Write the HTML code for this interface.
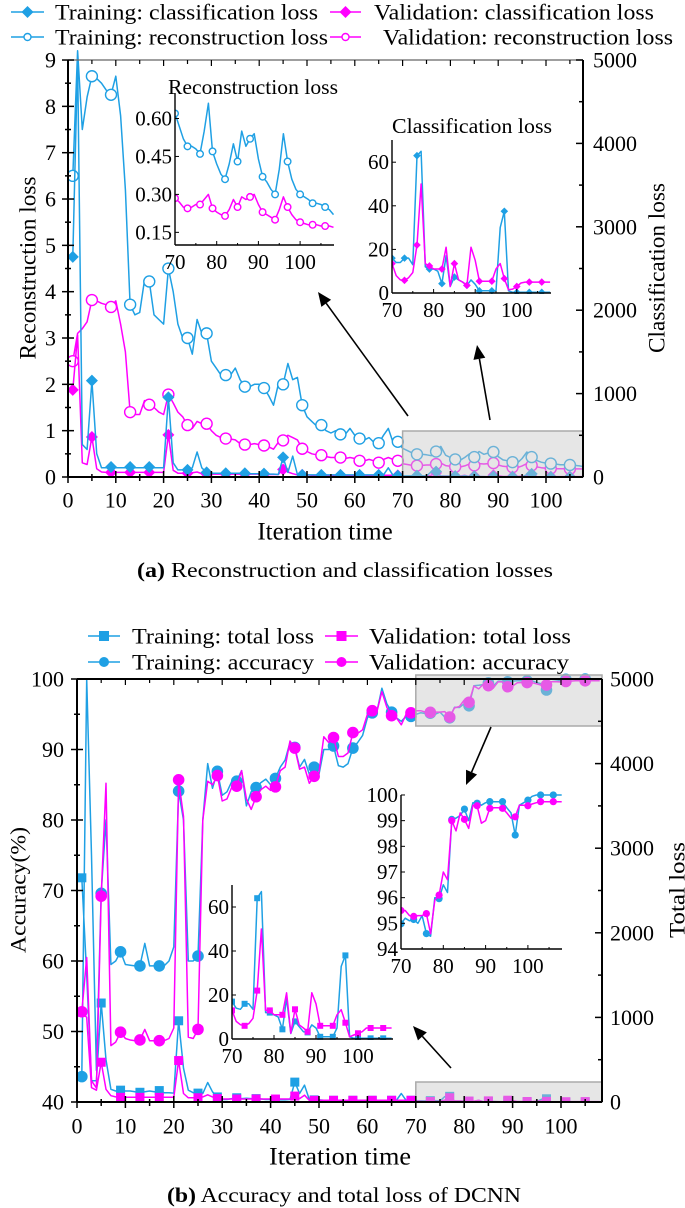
<!DOCTYPE html>
<html><head><meta charset="utf-8"><style>
html,body{margin:0;padding:0;background:#fff}
svg{display:block;font-family:"Liberation Serif",serif}
</style></head><body>
<svg id="fig" width="685" height="1208" viewBox="0 0 685 1208" xmlns="http://www.w3.org/2000/svg"></svg>
<script>
// ---------- DATA (x = iteration 1..108) ----------
const iterations = Array.from({length:108},(_,i)=>i+1);
const trainRecon = [6.5,9.2,7.5,8.2,8.65,8.6,8.5,8.35,8.25,8.65, 7.8,6.2,3.72,3.5,3.55,4.25,4.22,3.5,3.4,3.3, 4.5,4.0,3.3,3.0,3.0,2.65,3.4,3.1,3.1,2.5, 2.35,2.2,2.2,2.2,2.35,2.1,1.95,1.95,2.0,2.0, 1.92,1.75,1.55,2.0,2.0,2.45,2.1,2.15,1.55,1.3, 1.2,1.1,1.12,1.0,0.95,1.0,0.92,0.92,1.05,0.9, 0.83,0.8,0.85,0.75,0.73,0.9,1.05,0.75,0.76, 0.62,0.57,0.52,0.49,0.49,0.48,0.46,0.55,0.66,0.47, 0.42,0.38,0.36,0.42,0.50,0.43,0.55,0.49,0.52,0.54, 0.44,0.37,0.35,0.32,0.30,0.40,0.54,0.43,0.36,0.32, 0.30,0.29,0.28,0.265,0.265,0.26,0.25,0.24,0.22];
const valRecon = [2.5,3.1,3.2,3.35,3.82,3.8,3.75,3.72,3.67,3.8, 3.3,2.7,1.4,1.35,1.35,1.65,1.56,1.5,1.4,1.35, 1.78,1.6,1.4,1.3,1.12,1.05,1.2,1.15,1.15,1.0, 0.9,0.85,0.83,0.82,0.8,0.72,0.7,0.7,0.72,0.7, 0.68,0.65,0.6,0.75,0.79,0.9,0.85,0.8,0.61,0.55, 0.5,0.48,0.47,0.44,0.42,0.42,0.42,0.4,0.42,0.4, 0.35,0.35,0.38,0.35,0.31,0.38,0.42,0.38,0.35, 0.285,0.27,0.25,0.245,0.25,0.26,0.26,0.28,0.30,0.245, 0.23,0.22,0.215,0.24,0.28,0.25,0.29,0.28,0.29,0.30, 0.26,0.23,0.22,0.21,0.20,0.24,0.29,0.25,0.22,0.20, 0.19,0.185,0.18,0.18,0.18,0.175,0.175,0.175,0.17];
const trainClass = [2640,5000,390,330,1155,280,110,110,120,110, 110,110,120,110,110,110,120,110,110,110, 955,170,85,85,85,110,300,110,55,45, 45,45,45,45,45,45,45,40,40,40, 40,35,35,30,235,55,250,30,25,25, 25,25,25,25,25,25,25,25,25,25, 25,25,25,25,25,25,110,20,15, 16,14,14,16,16,13,63,65,12,11, 11,10,4.3,17,3,7.3,6,5,3.5,6, 4,1,1,1,1,1,30,37.5,1,0.3, 0.3,0.3,0.3,0.3,0.3,0.3,0.3,0.3,0.3];
const valClass = [1045,1700,170,150,480,100,60,55,55,55, 55,55,55,55,55,55,55,55,55,55, 505,80,45,45,45,50,60,40,35,35, 35,35,35,35,35,35,35,35,35,35, 30,30,30,30,90,60,40,25,25,25, 20,20,20,20,20,20,20,20,20,20, 20,20,20,20,20,20,20,20,20, 13.5,8,6,5.8,7,9.4,22,50,13.5,12.4, 11,11,11,21,3,13.5,6,5,3.5,21, 15,5.4,5.4,5.4,5.4,11,13.5,6.6,1.5,1.8, 3,4.6,5,5,5,5,5,5,5];
const trainAcc = [43.6,100,75,44.5,69.6,80,59.5,60,61.3,59.5, 59.4,59.3,59.3,62.5,59.3,59.3,59.3,59.3,60,62, 84.1,80,60,60,60.7,80,88,84.5,86.9,83.5, 84,85.5,85.5,87,82,84,84.6,85.3,85.8,85, 85.9,87.5,88.5,91,90.3,87.5,88.6,86.5,87.5,86.5, 90,90,90.5,87.7,87.5,88,90.2,91,92,94.5, 95.2,95.5,98.7,96.5,95.3,94.5,94,94.7,94.7, 94.98,95.2,95.1,95.15,95.0,95.3,94.6,94.5,96.0,95.96, 96.5,96.2,99.05,99.1,99.2,99.45,99.0,99.7,99.68,99.6, 99.7,99.74,99.74,99.74,99.74,99.5,99.3,98.44,99.6,99.7, 99.8,99.95,100,100,100,100,100,100,100];
const valAcc = [52.8,60.5,43,42,69.2,85.2,48,48.5,49.9,49, 48.8,48.7,48.8,50.3,48.7,48.7,48.7,48.7,49,50.5, 85.7,80.5,49.2,49,50.3,80,85.5,85,86.3,82.7, 83,84.7,84.8,87,83,81.5,83.3,84.3,84.8,84.2, 84.7,87,87.5,91.2,90.2,87.2,87.5,85.2,86.2,86.8, 91.8,91,91.7,89,89,89.5,92.4,92.3,92.8,95, 95.5,95.5,98.2,96,94.8,94.5,93.5,95,95.2, 95.5,95.5,95.3,95.27,95.3,95.3,95.38,94.6,95.9,96.1, 97.0,96.7,99.0,98.6,99.3,99.05,98.7,99.6,99.58,98.9, 99.0,99.48,99.5,99.5,99.48,99.3,99.1,99.15,99.6,99.6, 99.58,99.65,99.7,99.74,99.74,99.74,99.74,99.74,99.74];
const trainTotal = [2650,1500,250,250,1170,500,150,130,140,130, 130,120,115,120,130,120,135,110,110,105, 960,400,140,110,105,100,230,120,60,30, 30,40,50,40,45,40,40,35,30,30, 25,25,25,30,235,100,200,30,25,25, 20,20,20,20,20,20,20,20,20,20, 20,20,20,20,20,20,100,20,20, 17,14,13.5,16,16,13.5,64,67,12,12, 11,10,4.4,18.5,2.5,8,5.6,3.3,3,6.4, 5,1,1,1,1,5,33,38,1,0.3, 0.3,0.3,0.3,0.3,0.3,0.3,0.3,0.3,0.3];
const valTotal = [1060,1000,170,140,470,150,75,60,55,55, 55,55,55,55,55,55,55,55,55,55, 490,100,50,50,50,60,85,60,40,35, 35,35,35,35,35,35,35,35,35,35, 35,35,35,35,70,40,80,20,20,20, 20,20,20,20,20,20,20,20,20,20, 20,20,20,20,20,20,20,20,20, 13,8,6.5,6,7,9.4,22,50,13,13, 11,11,11,21,2.6,13.5,6.4,5,3.3,21, 16,6,6,6,6,11,13.3,7.4,1,1.8, 2.6,3.3,5,5,5,5,5,5,5];
const xTicksMain = [0,10,20,30,40,50,60,70,80,90,100];
const xTicksInset = [70,80,90,100];
const reconTicks = [0,1,2,3,4,5,6,7,8,9];
const classTicks = [0,1000,2000,3000,4000,5000];
const reconInsetTicks = [0.15,0.30,0.45,0.60];
const classInsetTicks = [0,20,40,60];
const accTicks = [40,50,60,70,80,90,100];
const accInsetTicks = [94,95,96,97,98,99,100];

// ---------- helpers ----------
const NS="http://www.w3.org/2000/svg";
const svg=document.getElementById('fig');
const BLUE="#1fa0e4", MAG="#f0f";
const TICK=22, ITICK=21;
function mk(tag, attrs, name, parent){
  const e=document.createElementNS(NS,tag);
  for(const k in attrs) e.setAttribute(k,attrs[k]);
  
  
  (parent||svg).appendChild(e);
  return e;
}
function txt(x,y,s,size,anchor,name,extra){
  const t=mk('text',Object.assign({x:x,y:y,'font-size':size,'text-anchor':anchor||'middle','dominant-baseline':'central',fill:'#000'},extra||{}),name);
  t.textContent=s; return t;
}
function clip(id,x,y,w,h){
  const d=mk('clipPath',{id:id},'clip-'+id);
  mk('rect',{x:x,y:y,width:w,height:h},'clip-rect',d);
}
function marker(g,type,x,y,s,color,name){
  if(type==='diamond') return mk('path',{d:`M${x} ${y-s}L${x+s} ${y}L${x} ${y+s}L${x-s} ${y}Z`,fill:color},name,g);
  if(type==='ocircle') return mk('circle',{cx:x,cy:y,r:s,fill:'#fff',stroke:color,'stroke-width':1.4},name,g);
  if(type==='circle') return mk('circle',{cx:x,cy:y,r:s,fill:color},name,g);
  if(type==='square') return mk('rect',{x:x-s,y:y-s,width:2*s,height:2*s,fill:color},name,g);
}
function series(X,Y,xs,ys,from,to,color,mtype,msize,mStart,mStep,clipId,name,sw){
  const g=mk('g',{'clip-path':`url(#${clipId})`},name);
  let d='';
  for(let i=0;i<xs.length;i++){ if(xs[i]<from||xs[i]>to) continue;
    d+=(d?'L':'M')+X(xs[i]).toFixed(1)+' '+Y(ys[i]).toFixed(1); }
  mk('path',{d:d,fill:'none',stroke:color,'stroke-width':sw||1.5,'stroke-linejoin':'round'},name+'-line',g);
  for(let i=0;i<xs.length;i++){ if(xs[i]<from||xs[i]>to) continue;
    if((xs[i]-mStart)%mStep!==0||xs[i]<mStart) continue;
    marker(g,mtype,X(xs[i]),Y(ys[i]),msize,color,name+'-marker');
  }
}
function arrow(x1,y1,x2,y2,name){
  const g=mk('g',{},name);
  const a=Math.atan2(y2-y1,x2-x1), L=14, W=6;
  const bx=x2-L*Math.cos(a), by=y2-L*Math.sin(a);
  mk('line',{x1:x1,y1:y1,x2:bx,y2:by,stroke:'#000','stroke-width':1.6},name+'-shaft',g);
  mk('path',{d:`M${x2} ${y2}L${bx+W*Math.sin(a)} ${by-W*Math.cos(a)}L${bx-W*Math.sin(a)} ${by+W*Math.cos(a)}Z`,fill:'#000'},name+'-head',g);
}
function legendItem(x1,x2,y,type,color,label,tx,tw,name){
  const g=mk('g',{},name);
  mk('line',{x1:x1,y1:y,x2:x2,y2:y,stroke:color,'stroke-width':1.6},name+'-line',g);
  marker(g,type,(x1+x2)/2,y,type==='ocircle'?3.5:(type==='diamond'?6:5),color,name+'-marker');
  const t=mk('text',{x:tx,y:y,'font-size':22,'dominant-baseline':'central',fill:'#000',textLength:tw,lengthAdjust:'spacingAndGlyphs'},name+'-label',g);
  t.textContent=label;
}

// ================= PANEL (a) =================
{
const L=68,R=583,T=60,B=477;
const X=x=>L+x*4.78, YL=v=>B-v*46.33, YR=v=>B-v*(B-T)/5000;
clip('ca',L,T-12,R-L,B-T+12);
legendItem(11,44,12,'diamond',BLUE,'Training: classification loss',55,263,'legend-train-class');
legendItem(330,361,12,'diamond',MAG,'Validation: classification loss',374,280,'legend-val-class');
legendItem(11,44,37,'ocircle',BLUE,'Training: reconstruction loss',55,273,'legend-train-recon');
legendItem(330,361,37,'ocircle',MAG,'Validation: reconstruction loss',383,290,'legend-val-recon');
series(X,YL,iterations,valRecon,1,108,MAG,'ocircle',5.5,1,4,'ca','val-recon-series');
series(X,YL,iterations,trainRecon,1,108,BLUE,'ocircle',5.5,1,4,'ca','train-recon-series');
series(X,YR,iterations,valClass,1,108,MAG,'diamond',6,1,4,'ca','val-class-series');
series(X,YR,iterations,trainClass,1,108,BLUE,'diamond',6,1,4,'ca','train-class-series');
mk('rect',{x:X(70),y:431,width:R-X(70),height:B-431,fill:'rgba(200,200,200,0.45)',stroke:'#aaa','stroke-width':1.5},'zoom-box-a');
mk('line',{x1:L,y1:T,x2:R,y2:T,stroke:'#666','stroke-width':1.2},'top-border-a');
mk('line',{x1:L,y1:T,x2:L,y2:B,stroke:'#000','stroke-width':2},'left-axis-a');
mk('line',{x1:R,y1:T,x2:R,y2:B,stroke:'#000','stroke-width':2},'right-axis-a');
mk('line',{x1:L,y1:B,x2:R,y2:B,stroke:'#000','stroke-width':2},'x-axis-a');
for(let v=0;v<=107;v+=5){const x=X(v),maj=v%10===0;
  mk('line',{x1:x,y1:B-(maj?6:3),x2:x,y2:B+(maj?6:4),stroke:'#000','stroke-width':1.5},'x-tick-a');
  mk('line',{x1:x,y1:T,x2:x,y2:T+(maj?6:4),stroke:'#000','stroke-width':1.2},'top-tick-a');}
xTicksMain.forEach(v=>txt(X(v),500,String(v),TICK,'middle','x-tick-label-a'));
for(let v=0;v<=9;v+=0.5){const y=YL(v),maj=v%1===0;
  mk('line',{x1:L-(maj?6:3),y1:y,x2:L+(maj?6:3),y2:y,stroke:'#000','stroke-width':1.5},'y-tick-left-a');}
reconTicks.forEach(v=>txt(56,YL(v),String(v),TICK,'end','y-tick-label-left-a'));
for(let v=0;v<=5000;v+=500){const y=YR(v),maj=v%1000===0;
  mk('line',{x1:R-(maj?7:4),y1:y,x2:R,y2:y,stroke:'#000','stroke-width':1.5},'y-tick-right-a');}
classTicks.forEach(v=>txt(593,YR(v),String(v),TICK,'start','y-tick-label-right-a'));
txt(325,532,'Iteration time',25,'middle','x-axis-title-a');
txt(28,268,'Reconstruction loss',23,'middle','y-axis-title-left-a',{transform:'rotate(-90 28 268)',textLength:183,lengthAdjust:'spacingAndGlyphs'});
txt(657,268,'Classification loss',23,'middle','y-axis-title-right-a',{transform:'rotate(-90 657 268)',textLength:170,lengthAdjust:'spacingAndGlyphs'});
const cap=txt(345,570,'',21,'middle','caption-a',{textLength:416,lengthAdjust:'spacingAndGlyphs'});
cap.innerHTML='<tspan font-weight="bold">(a)</tspan> Reconstruction and classification losses';
// inset recon
const iX=x=>175+(x-70)*4.17, iY=v=>245-(v-0.10)*253;
clip('ir',175,93,160,153);
series(iX,iY,iterations,valRecon,70,108,MAG,'ocircle',3.3,70,3,'ir','inset-val-recon');
series(iX,iY,iterations,trainRecon,70,108,BLUE,'ocircle',3.3,70,3,'ir','inset-train-recon');
mk('line',{x1:175,y1:93,x2:175,y2:245,stroke:'#000','stroke-width':1.4},'inset-recon-y-axis');
mk('line',{x1:175,y1:245,x2:334,y2:245,stroke:'#000','stroke-width':1.4},'inset-recon-x-axis');
for(let v=70;v<=105;v+=5) mk('line',{x1:iX(v),y1:245,x2:iX(v),y2:245-(v%10?2:4),stroke:'#000','stroke-width':1},'inset-recon-x-tick');
xTicksInset.forEach(v=>txt(iX(v),262,String(v),ITICK,'middle','inset-recon-x-label'));
reconInsetTicks.forEach(v=>{mk('line',{x1:175,y1:iY(v),x2:179,y2:iY(v),stroke:'#000','stroke-width':1},'inset-recon-y-tick');txt(172,iY(v),v.toFixed(2),ITICK,'end','inset-recon-y-label');});
txt(253,87,'Reconstruction loss',21,'middle','inset-recon-title',{textLength:170,lengthAdjust:'spacingAndGlyphs'});
// inset class
const cX=x=>392+(x-70)*4.16, cY=v=>293-v*2.18;
clip('ic',392,138,160,156);
series(cX,cY,iterations,trainClass,70,108,BLUE,'diamond',3.8,70,3,'ic','inset-train-class');
series(cX,cY,iterations,valClass,70,108,MAG,'diamond',3.8,70,3,'ic','inset-val-class');
mk('line',{x1:392,y1:140,x2:392,y2:293,stroke:'#000','stroke-width':1.4},'inset-class-y-axis');
mk('line',{x1:392,y1:293,x2:551,y2:293,stroke:'#000','stroke-width':1.4},'inset-class-x-axis');
for(let v=70;v<=105;v+=5) mk('line',{x1:cX(v),y1:293,x2:cX(v),y2:293-(v%10?2:4),stroke:'#000','stroke-width':1},'inset-class-x-tick');
xTicksInset.forEach(v=>txt(cX(v),310,String(v),ITICK,'middle','inset-class-x-label'));
classInsetTicks.forEach(v=>{mk('line',{x1:392,y1:cY(v),x2:396,y2:cY(v),stroke:'#000','stroke-width':1},'inset-class-y-tick');txt(389,cY(v),String(v),ITICK,'end','inset-class-y-label');});
txt(472,126,'Classification loss',21,'middle','inset-class-title',{textLength:160,lengthAdjust:'spacingAndGlyphs'});
arrow(408,416,318,292,'arrow-to-recon-inset');
arrow(490,420,477,345,'arrow-to-class-inset');
}

// ================= PANEL (b) =================
{
const L=77,R=602,T=679,B=1102;
const X=x=>L+x*4.84, YA=v=>B-(v-40)*(B-T)/60, YR=v=>B-v*(B-T)/5000;
clip('cb',L,T-8,R-L,B-T+8);
legendItem(88,120,636,'square',BLUE,'Training: total loss',132,182,'legend-train-total');
legendItem(325,358,636,'square',MAG,'Validation: total loss',369,202,'legend-val-total');
legendItem(88,120,662,'circle',BLUE,'Training: accuracy',132,182,'legend-train-acc');
legendItem(325,358,662,'circle',MAG,'Validation: accuracy',369,200,'legend-val-acc');
series(X,YR,iterations,trainTotal,1,108,BLUE,'square',4.5,1,4,'cb','train-total-series');
series(X,YR,iterations,valTotal,1,108,MAG,'square',4.5,1,4,'cb','val-total-series');
series(X,YA,iterations,trainAcc,1,108,BLUE,'circle',5.8,1,4,'cb','train-acc-series');
series(X,YA,iterations,valAcc,1,108,MAG,'circle',5.8,1,4,'cb','val-acc-series');
mk('rect',{x:X(70),y:675,width:R-X(70),height:51,fill:'rgba(200,200,200,0.45)',stroke:'#aaa','stroke-width':1.5},'zoom-box-acc');
mk('rect',{x:X(70),y:1082,width:R-X(70),height:20,fill:'rgba(200,200,200,0.45)',stroke:'#aaa','stroke-width':1.5},'zoom-box-loss');
mk('line',{x1:L,y1:T,x2:R,y2:T,stroke:'#000','stroke-width':2},'top-border-b');
mk('line',{x1:L,y1:T,x2:L,y2:B,stroke:'#000','stroke-width':2},'left-axis-b');
mk('line',{x1:R,y1:T,x2:R,y2:B,stroke:'#000','stroke-width':2},'right-axis-b');
mk('line',{x1:L,y1:B,x2:R,y2:B,stroke:'#000','stroke-width':2},'x-axis-b');
for(let v=0;v<=107;v+=5){const x=X(v),maj=v%10===0;
  mk('line',{x1:x,y1:B-(maj?6:3),x2:x,y2:B+(maj?6:4),stroke:'#000','stroke-width':1.5},'x-tick-b');
  mk('line',{x1:x,y1:T,x2:x,y2:T+(maj?6:4),stroke:'#000','stroke-width':1.2},'top-tick-b');}
xTicksMain.forEach(v=>txt(X(v),1126,String(v),TICK,'middle','x-tick-label-b'));
for(let v=40;v<=100;v+=5){const y=YA(v),maj=v%10===0;
  mk('line',{x1:L-(maj?6:3),y1:y,x2:L+(maj?6:3),y2:y,stroke:'#000','stroke-width':1.5},'y-tick-left-b');}
accTicks.forEach(v=>txt(64,YA(v),String(v),TICK,'end','y-tick-label-left-b'));
for(let v=0;v<=5000;v+=500){const y=YR(v),maj=v%1000===0;
  mk('line',{x1:R-(maj?7:4),y1:y,x2:R,y2:y,stroke:'#000','stroke-width':1.5},'y-tick-right-b');}
classTicks.forEach(v=>txt(610,YR(v),String(v),TICK,'start','y-tick-label-right-b'));
txt(340,1157,'Iteration time',25,'middle','x-axis-title-b',{textLength:142,lengthAdjust:'spacingAndGlyphs'});
txt(18,890,'Accuracy(%)',22,'middle','y-axis-title-left-b',{transform:'rotate(-90 18 890)',textLength:126,lengthAdjust:'spacingAndGlyphs'});
txt(677,890,'Total loss',22,'middle','y-axis-title-right-b',{transform:'rotate(-90 677 890)',textLength:96,lengthAdjust:'spacingAndGlyphs'});
const cap=txt(344,1195,'',21,'middle','caption-b',{textLength:354,lengthAdjust:'spacingAndGlyphs'});
cap.innerHTML='<tspan font-weight="bold">(b)</tspan> Accuracy and total loss of DCNN';
// inset accuracy
const aX=x=>401+(x-70)*4.23, aY=v=>949-(v-94)*25.67;
clip('ia',401,790,165,160);
series(aX,aY,iterations,trainAcc,70,108,BLUE,'circle',3.6,70,3,'ia','inset-train-acc');
series(aX,aY,iterations,valAcc,70,108,MAG,'circle',3.6,70,3,'ia','inset-val-acc');
mk('line',{x1:401,y1:795,x2:401,y2:949,stroke:'#000','stroke-width':1.4},'inset-acc-y-axis');
mk('line',{x1:401,y1:949,x2:562,y2:949,stroke:'#000','stroke-width':1.4},'inset-acc-x-axis');
for(let v=70;v<=105;v+=5) mk('line',{x1:aX(v),y1:949,x2:aX(v),y2:949-(v%10?2:4),stroke:'#000','stroke-width':1},'inset-acc-x-tick');
xTicksInset.forEach(v=>txt(aX(v),966,String(v),ITICK,'middle','inset-acc-x-label'));
accInsetTicks.forEach(v=>{mk('line',{x1:401,y1:aY(v),x2:405,y2:aY(v),stroke:'#000','stroke-width':1},'inset-acc-y-tick');txt(398,aY(v),String(v),ITICK,'end','inset-acc-y-label');});
// inset loss
const lX=x=>232+(x-70)*4.2, lY=v=>1039-v*2.2;
clip('il',232,883,162,157);
series(lX,lY,iterations,trainTotal,70,108,BLUE,'square',3,70,3,'il','inset-train-total');
series(lX,lY,iterations,valTotal,70,108,MAG,'square',3,70,3,'il','inset-val-total');
mk('line',{x1:232,y1:885,x2:232,y2:1039,stroke:'#000','stroke-width':1.4},'inset-loss-y-axis');
mk('line',{x1:232,y1:1039,x2:393,y2:1039,stroke:'#000','stroke-width':1.4},'inset-loss-x-axis');
for(let v=70;v<=105;v+=5) mk('line',{x1:lX(v),y1:1039,x2:lX(v),y2:1039-(v%10?2:4),stroke:'#000','stroke-width':1},'inset-loss-x-tick');
xTicksInset.forEach(v=>txt(lX(v),1056,String(v),ITICK,'middle','inset-loss-x-label'));
classInsetTicks.forEach(v=>{mk('line',{x1:232,y1:lY(v),x2:236,y2:lY(v),stroke:'#000','stroke-width':1},'inset-loss-y-tick');txt(229,lY(v),String(v),ITICK,'end','inset-loss-y-label');});
arrow(491,727,466,785,'arrow-to-acc-inset');
arrow(451,1068,413,1026,'arrow-to-loss-inset');
}
</script>
</body></html>
